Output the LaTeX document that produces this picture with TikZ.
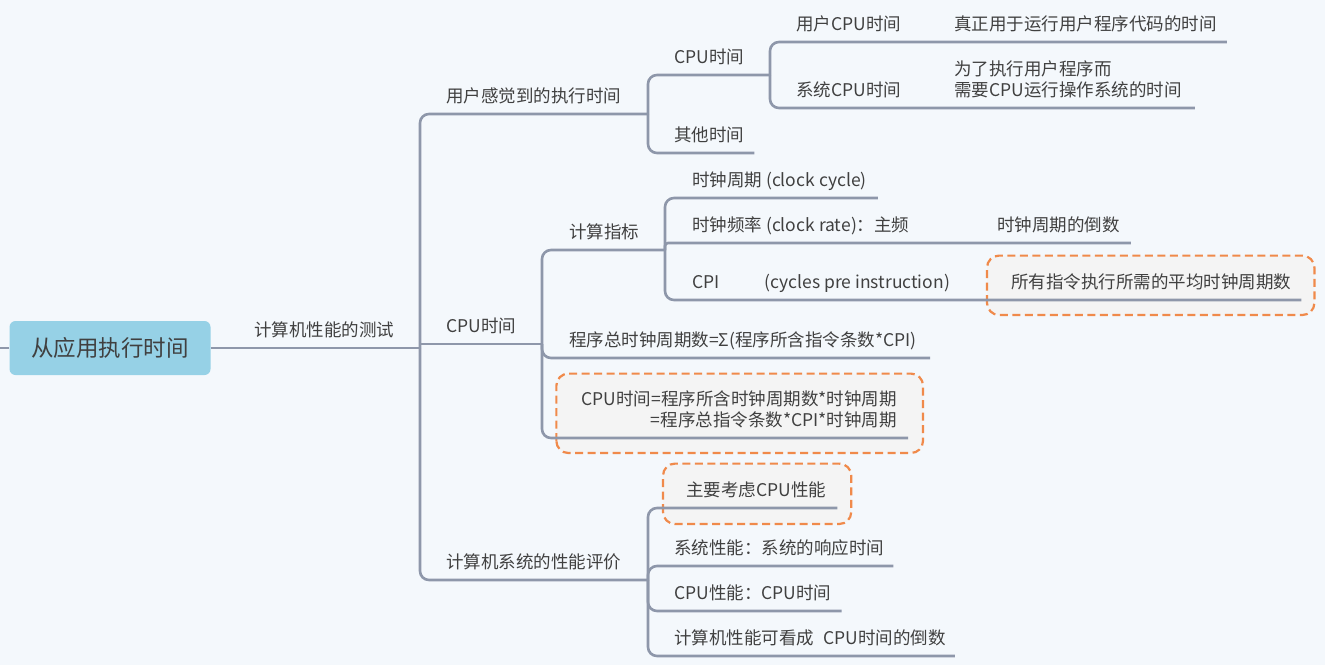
\documentclass[tikz,border=0pt]{standalone}
\usepackage{fontspec}
\setmainfont{Noto Sans CJK SC}
\usetikzlibrary{backgrounds}
\definecolor{paper}{HTML}{F4F8FC}
\definecolor{ink}{HTML}{404040}
\definecolor{branchgray}{HTML}{8E97AA}
\definecolor{rootblue}{HTML}{96D1E6}
\definecolor{hilite}{HTML}{F08A4B}
\definecolor{notefill}{HTML}{F4F4F4}
\tikzset{
  root/.style={
    rounded corners=6pt,
    fill=rootblue,
    minimum width=201pt,
    minimum height=54pt,
    font=\fontsize{22.5}{27}\selectfont,
    text=ink
  },
  topic/.style={
    anchor=south west,
    inner sep=0pt,
    text height=13pt,
    text depth=11.5pt,
    font=\fontsize{17.5}{21}\selectfont,
    text=ink
  },
  highlight/.style={
    draw=hilite,
    line width=2.2pt,
    dash pattern=on 8pt off 4.5pt,
    rounded corners=12pt,
    fill=notefill
  },
  branch/.style={draw=branchgray, line width=2.6pt, rounded corners=9pt}
}

\begin{document}
\begin{tikzpicture}[x=1pt, y=-1pt]
  \useasboundingbox (0,0) rectangle (1325,665);

  % root and first level
  \node[root] (root) at (110,348) {从应用执行时间};
  \node[topic] (measure) at (254,348) {计算机性能的测试};
  \coordinate (offstage) at (0,348);

  \node[topic] (user) at (446,114) {用户感觉到的执行时间};
  \node[topic] (cpu) at (446,344) {CPU时间};
  \node[topic] (eval) at (446,580) {计算机系统的性能评价};

  % user time
  \node[topic] (ucpu) at (674,75) {CPU时间};
  \node[topic] (other) at (674,153) {其他时间};
  \node[topic] (usr) at (796,42) {用户CPU时间};
  \node[topic] (usrnote) at (954,42) {真正用于运行用户程序代码的时间};
  \node[topic] (sys) at (796,108) {系统CPU时间};
  \node[topic, align=left, text height=34pt] (sysnote) at (954,108)
    {为了执行用户程序而\\需要CPU运行操作系统的时间};

  % cpu time
  \node[topic] (metric) at (569,250) {计算指标};
  \node[topic] (total) at (569,358) {程序总时钟周期数=Σ(程序所含指令条数*CPI)};
  \node[topic, anchor=south east, align=right, text height=34pt] (formula) at (897,438)
    {CPU时间=程序所含时钟周期数*时钟周期\\=程序总指令条数*CPI*时钟周期};
  \node[topic] (cycle) at (692,198) {时钟周期 (clock cycle)};
  \node[topic] (rate) at (692,243) {时钟频率 (clock rate)：主频};
  \node[topic] (ratenote) at (997,243) {时钟周期的倒数};
  \node[topic] (cpi) at (692,300) {CPI\hspace{45pt}(cycles pre instruction)};
  \node[topic] (cpinote) at (1011,300) {所有指令执行所需的平均时钟周期数};

  % evaluation
  \node[topic] (focus) at (686,508) {主要考虑CPU性能};
  \node[topic] (sysperf) at (674,566) {系统性能：系统的响应时间};
  \node[topic] (cpuperf) at (674,611) {CPU性能：CPU时间};
  \node[topic] (recip) at (674,656) {计算机性能可看成\hspace{9pt}CPU时间的倒数};

  % forks
  \coordinate (fork-measure) at (420,348);
  \coordinate (fork-user) at (648,114);
  \coordinate (fork-cpu) at (542,344);
  \coordinate (fork-eval) at (648,580);
  \coordinate (fork-ucpu) at (770,75);
  \coordinate (fork-metric) at (665,250);

  \begin{scope}[on background layer]
    \fill[paper] (0,0) rectangle (1325,665);
    \draw[highlight] ([shift={(-24pt,-15pt)}]cpinote.south west) rectangle ([shift={(23pt,19.5pt)}]cpinote.north east);
    \draw[highlight] ([shift={(-23pt,-16pt)}]focus.south west) rectangle ([shift={(25pt,19.5pt)}]focus.north east);
    \draw[highlight] ([shift={(-25pt,-15pt)}]formula.south west) rectangle ([shift={(26pt,18.5pt)}]formula.north east);
  \end{scope}

  \draw[branch] (root.west) -- (offstage);
  \draw[branch] (root.east) -- (fork-measure);
  \draw[branch] (fork-measure) |- (fork-user);
  \draw[branch, sharp corners] (fork-measure) |- (fork-cpu);
  \draw[branch] (fork-measure) |- (fork-eval);

  \draw[branch] (fork-user) |- (fork-ucpu);
  \draw[branch] (fork-user) |- ([xshift=10pt]other.south east);
  \draw[branch] (fork-ucpu) |- ([xshift=10pt]usrnote.south east);
  \draw[branch] (fork-ucpu) |- ([xshift=13pt]sysnote.south east);

  \draw[branch] (fork-cpu) |- (fork-metric);
  \draw[branch] (fork-cpu) |- ([xshift=13pt]total.south east);
  \draw[branch] (fork-cpu) |- ([xshift=11pt]formula.south east);
  \draw[branch] (fork-metric) |- ([xshift=11pt]cycle.south east);
  \draw[branch, rounded corners=3pt] (fork-metric) |- ([xshift=11pt]ratenote.south east);
  \draw[branch] (fork-metric) |- ([xshift=10pt]cpinote.south east);

  \draw[branch] (fork-eval) |- ([xshift=11pt]focus.south east);
  \draw[branch] (fork-eval) |- ([xshift=9pt]sysperf.south east);
  \draw[branch] (fork-eval) |- ([xshift=10pt]cpuperf.south east);
  \draw[branch] (fork-eval) |- ([xshift=9pt]recip.south east);
\end{tikzpicture}
\end{document}
